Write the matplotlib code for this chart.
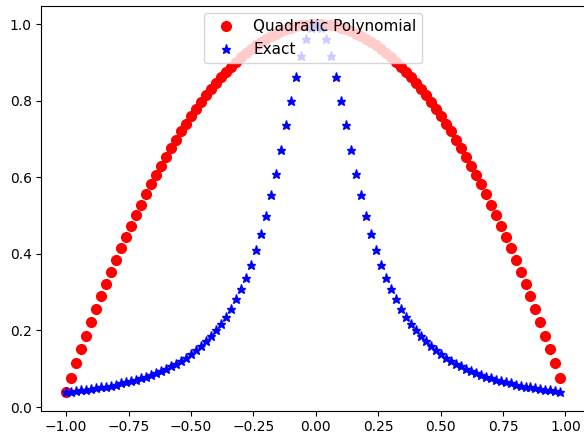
import matplotlib
matplotlib.use("Agg")
import matplotlib.pyplot as plt

# sample points, -1.00 .. 0.98 in steps of 0.02
x = [-1.00, -0.98, -0.96, -0.94, -0.92, -0.90, -0.88, -0.86, -0.84, -0.82,
     -0.80, -0.78, -0.76, -0.74, -0.72, -0.70, -0.68, -0.66, -0.64, -0.62,
     -0.60, -0.58, -0.56, -0.54, -0.52, -0.50, -0.48, -0.46, -0.44, -0.42,
     -0.40, -0.38, -0.36, -0.34, -0.32, -0.30, -0.28, -0.26, -0.24, -0.22,
     -0.20, -0.18, -0.16, -0.14, -0.12, -0.10, -0.08, -0.06, -0.04, -0.02,
     0.00, 0.02, 0.04, 0.06, 0.08, 0.10, 0.12, 0.14, 0.16, 0.18,
     0.20, 0.22, 0.24, 0.26, 0.28, 0.30, 0.32, 0.34, 0.36, 0.38,
     0.40, 0.42, 0.44, 0.46, 0.48, 0.50, 0.52, 0.54, 0.56, 0.58,
     0.60, 0.62, 0.64, 0.66, 0.68, 0.70, 0.72, 0.74, 0.76, 0.78,
     0.80, 0.82, 0.84, 0.86, 0.88, 0.90, 0.92, 0.94, 0.96, 0.98]

quad = [0.0385, 0.0765, 0.1138, 0.1504, 0.1862, 0.2212, 0.2554, 0.2888, 0.3215, 0.3535,
        0.3846, 0.4150, 0.4446, 0.4735, 0.5015, 0.5288, 0.5554, 0.5812, 0.6062, 0.6304,
        0.6538, 0.6765, 0.6985, 0.7196, 0.7400, 0.7596, 0.7785, 0.7965, 0.8138, 0.8304,
        0.8462, 0.8612, 0.8754, 0.8888, 0.9015, 0.9135, 0.9246, 0.9350, 0.9446, 0.9535,
        0.9615, 0.9688, 0.9754, 0.9812, 0.9862, 0.9904, 0.9938, 0.9965, 0.9985, 0.9996,
        1.0000, 0.9996, 0.9985, 0.9965, 0.9938, 0.9904, 0.9862, 0.9812, 0.9754, 0.9688,
        0.9615, 0.9535, 0.9446, 0.9350, 0.9246, 0.9135, 0.9015, 0.8888, 0.8754, 0.8612,
        0.8462, 0.8304, 0.8138, 0.7965, 0.7785, 0.7596, 0.7400, 0.7196, 0.6985, 0.6765,
        0.6538, 0.6304, 0.6062, 0.5812, 0.5554, 0.5288, 0.5015, 0.4735, 0.4446, 0.4150,
        0.3846, 0.3535, 0.3215, 0.2888, 0.2554, 0.2212, 0.1862, 0.1504, 0.1138, 0.0765]

exact = [0.0385, 0.0400, 0.0416, 0.0433, 0.0451, 0.0471, 0.0491, 0.0513, 0.0536, 0.0561,
         0.0588, 0.0617, 0.0648, 0.0681, 0.0716, 0.0755, 0.0796, 0.0841, 0.0890, 0.0943,
         0.1000, 0.1063, 0.1131, 0.1206, 0.1289, 0.1379, 0.1479, 0.1590, 0.1712, 0.1848,
         0.2000, 0.2169, 0.2358, 0.2571, 0.2809, 0.3077, 0.3378, 0.3717, 0.4098, 0.4525,
         0.5000, 0.5525, 0.6098, 0.6711, 0.7353, 0.8000, 0.8621, 0.9174, 0.9615, 0.9901,
         1.0000, 0.9901, 0.9615, 0.9174, 0.8621, 0.8000, 0.7353, 0.6711, 0.6098, 0.5525,
         0.5000, 0.4525, 0.4098, 0.3717, 0.3378, 0.3077, 0.2809, 0.2571, 0.2358, 0.2169,
         0.2000, 0.1848, 0.1712, 0.1590, 0.1479, 0.1379, 0.1289, 0.1206, 0.1131, 0.1063,
         0.1000, 0.0943, 0.0890, 0.0841, 0.0796, 0.0755, 0.0716, 0.0681, 0.0648, 0.0617,
         0.0588, 0.0561, 0.0536, 0.0513, 0.0491, 0.0471, 0.0451, 0.0433, 0.0416, 0.0400]

fig = plt.figure(figsize=(5.84, 4.36), dpi=100)
ax = fig.add_subplot(111)
# the reference is cropped on the right, so the axes run just past the edge
fig.subplots_adjust(left=0.071, right=1.002, top=0.987, bottom=0.058)

ax.plot(x, quad, 'ro', markersize=7, label='Quadratic Polynomial')
ax.plot(x, exact, 'b*', markersize=6.5, label='Exact')
ax.legend(loc='upper center', fontsize=11)

plt.savefig('out.png', dpi=100)
